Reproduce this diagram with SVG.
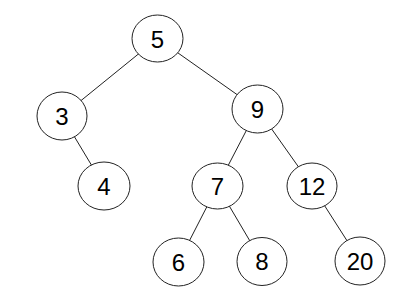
<svg xmlns="http://www.w3.org/2000/svg" width="400" height="299" viewBox="0 0 400 299">
<style>
.e{fill:#fff;stroke:#222;stroke-width:1}
.t{font-family:"Liberation Sans",Arial,sans-serif;font-size:24px;fill:#000;text-anchor:middle;dominant-baseline:central}
.c line{stroke:#222;stroke-width:1}
</style>
<rect width="400" height="299" fill="#fff"/>
<g class="c" id="connectors">
<line x1="157.5" y1="38.5" x2="62" y2="116"/>
<line x1="157.5" y1="38.5" x2="257.5" y2="109"/>
<line x1="62" y1="116" x2="104" y2="186"/>
<line x1="257.5" y1="109" x2="217.5" y2="186"/>
<line x1="257.5" y1="109" x2="312" y2="186"/>
<line x1="217.5" y1="186" x2="178.5" y2="262"/>
<line x1="217.5" y1="186" x2="262" y2="261.5"/>
<line x1="312" y1="186" x2="360" y2="261"/>
</g>
<g id="n5"><ellipse class="e" cx="157.5" cy="38.5" rx="25.5" ry="23.5"/><text class="t" x="157.5" y="39">5</text></g>
<g id="n3"><ellipse class="e" cx="62" cy="116" rx="25" ry="24"/><text class="t" x="62" y="116">3</text></g>
<g id="n9"><ellipse class="e" cx="257.5" cy="109" rx="25.5" ry="24"/><text class="t" x="257.5" y="109">9</text></g>
<g id="n4"><ellipse class="e" cx="104" cy="186" rx="26" ry="24"/><text class="t" x="104" y="186">4</text></g>
<g id="n7"><ellipse class="e" cx="217.5" cy="186" rx="25.5" ry="23"/><text class="t" x="217.5" y="186">7</text></g>
<g id="n12"><ellipse class="e" cx="312" cy="186" rx="25" ry="23"/><text class="t" x="312" y="186">12</text></g>
<g id="n6"><ellipse class="e" cx="178.5" cy="262" rx="25.5" ry="24"/><text class="t" x="178.5" y="262">6</text></g>
<g id="n8"><ellipse class="e" cx="262" cy="261.5" rx="25" ry="24"/><text class="t" x="262" y="261.5">8</text></g>
<g id="n20"><ellipse class="e" cx="360" cy="261" rx="25" ry="24"/><text class="t" x="360" y="261">20</text></g>
</svg>
